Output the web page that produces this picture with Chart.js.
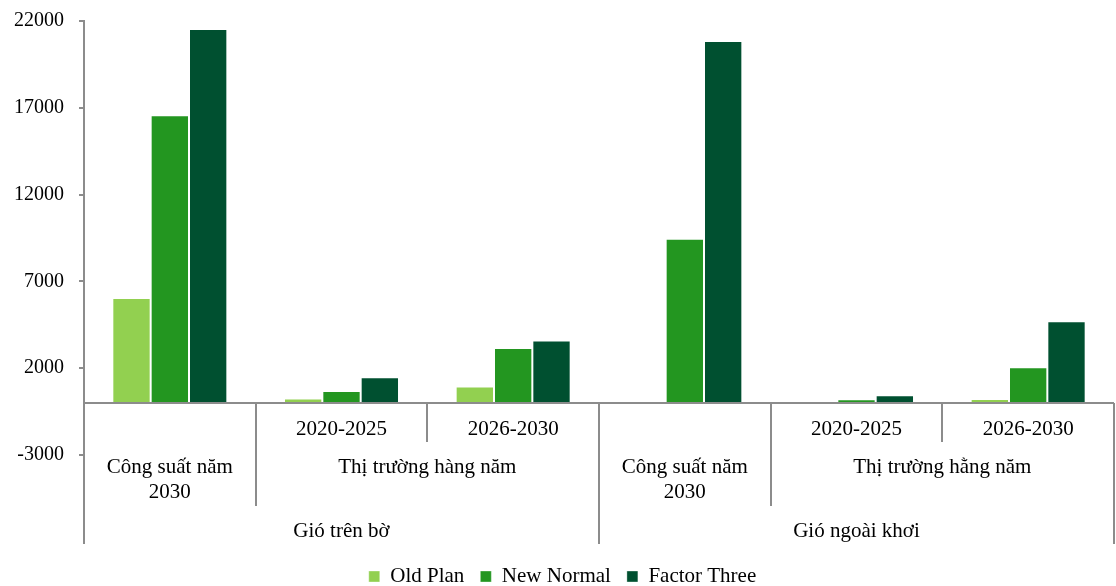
<!DOCTYPE html>
<html>
<head>
<meta charset="utf-8">
<script src="https://cdn.jsdelivr.net/npm/chart.js@4/dist/chart.umd.min.js"></script>
<style>
    html, body { margin: 0; padding: 0; background: #fff; }
    #wrap { width: 1116px; height: 586px; }
</style>
</head>
<body>
<div id="wrap"><canvas id="windChart"></canvas></div>
<script>
// --- Chart data ---
const categories = ['Công suất năm 2030', '2020-2025', '2026-2030', 'Công suất năm 2030', '2020-2025', '2026-2030'];
const subLabels = ['', '2020-2025', '2026-2030', '', '2020-2025', '2026-2030'];
const midGroups = [
    { text: ['Công suất năm', '2030'], from: 0, to: 0 },
    { text: ['Thị trường hàng năm'], from: 1, to: 2 },
    { text: ['Công suất năm', '2030'], from: 3, to: 3 },
    { text: ['Thị trường hằng năm'], from: 4, to: 5 }
];
const topGroups = [
    { text: ['Gió trên bờ'], from: 0, to: 2 },
    { text: ['Gió ngoài khơi'], from: 3, to: 5 }
];
const oldPlan = [6050, 250, 940, 115, 50, 230];
const newNormal = [16570, 690, 3170, 9450, 210, 2060];
const factorThree = [21540, 1480, 3590, 20850, 440, 4700];
const yTicks = [-3000, 2000, 7000, 12000, 17000, 22000];

const FONT = "'Liberation Serif', 'Times New Roman', serif";
const FONT_SIZE = 21;
const AXIS_GREY = '#8c8c8c';

// Draws the zero line and the three-level category labels below it
const multiLevelAxis = {
    id: 'multiLevelAxis',
    afterDraw(chart) {
        const { ctx, chartArea, scales: { x, y } } = chart;
        const y0 = y.getPixelForValue(0);
        const step = (chartArea.right - chartArea.left) / categories.length;
        const edge = i => chartArea.left + i * step;

        ctx.save();
        ctx.strokeStyle = AXIS_GREY;
        ctx.lineWidth = 2;
        ctx.beginPath();
        ctx.moveTo(chartArea.left, y0);
        ctx.lineTo(chartArea.right, y0);
        ctx.stroke();

        // divider lines: depth depends on which level the boundary belongs to
        const depth = [];
        for (let i = 0; i <= categories.length; i++) depth[i] = 39;
        midGroups.forEach(g => { depth[g.from] = 103; depth[g.to + 1] = 103; });
        topGroups.forEach(g => { depth[g.from] = 141; depth[g.to + 1] = 141; });
        depth.forEach((d, i) => {
            const px = Math.round(edge(i));
            if (d === 39 && (subLabels[i - 1] === '' || subLabels[i] === '')) return;
            ctx.beginPath();
            ctx.moveTo(px, y0);
            ctx.lineTo(px, y0 + d);
            ctx.stroke();
        });

        ctx.fillStyle = '#000';
        ctx.font = FONT_SIZE + 'px ' + FONT;
        ctx.textAlign = 'center';
        ctx.textBaseline = 'middle';
        subLabels.forEach((t, i) => {
            if (t) ctx.fillText(t, x.getPixelForValue(i), y0 + 27);
        });
        midGroups.forEach(g => {
            const cx = (edge(g.from) + edge(g.to + 1)) / 2;
            g.text.forEach((t, k) => ctx.fillText(t, cx, y0 + 65 + k * 25));
        });
        topGroups.forEach(g => {
            const cx = (edge(g.from) + edge(g.to + 1)) / 2;
            ctx.fillText(g.text[0], cx, y0 + 129);
        });
        ctx.restore();
    }
};

new Chart(document.getElementById('windChart').getContext('2d'), {
    type: 'bar',
    data: {
        labels: categories,
        datasets: [
            { label: 'Old Plan', data: oldPlan, backgroundColor: '#92d050' },
            { label: 'New Normal', data: newNormal, backgroundColor: '#239620' },
            { label: 'Factor Three', data: factorThree, backgroundColor: '#005030' }
        ]
    },
    options: {
        responsive: true,
        maintainAspectRatio: false,
        animation: false,
        layout: { padding: { left: 11, right: 2, top: 21, bottom: -11 } },
        datasets: {
            bar: {
                categoryPercentage: 0.67,
                barPercentage: 1.0,
                borderWidth: 1,
                borderColor: 'rgba(255,255,255,0.35)'
            }
        },
        plugins: {
            legend: {
                position: 'bottom',
                labels: {
                    boxWidth: 11,
                    boxHeight: 11,
                    padding: 16,
                    color: '#000',
                    font: { family: FONT, size: FONT_SIZE }
                }
            },
            tooltip: { enabled: false }
        },
        scales: {
            x: {
                grid: { display: false },
                border: { display: false },
                ticks: { display: false },
                afterFit(scale) { scale.height = 95; }
            },
            y: {
                min: -3000,
                max: 22000,
                afterBuildTicks(scale) {
                    scale.ticks = yTicks.map(v => ({ value: v }));
                },
                afterFit(scale) {
                    scale.width = 73;
                    scale.paddingTop = 0;
                    scale.paddingBottom = 0;
                },
                grid: {
                    drawOnChartArea: false,
                    tickLength: 5,
                    color: AXIS_GREY,
                    lineWidth: 2
                },
                border: { color: AXIS_GREY, width: 2 },
                ticks: {
                    padding: 15,
                    color: '#000',
                    font: { family: FONT, size: 20 },
                    callback: value => String(value)
                }
            }
        }
    },
    plugins: [multiLevelAxis]
});
</script>
</body>
</html>
